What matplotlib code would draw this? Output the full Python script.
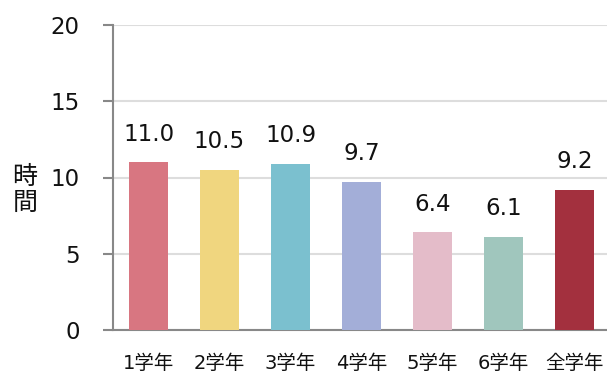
import matplotlib.pyplot as plt

plt.rcParams['font.family'] = ['DejaVu Sans', 'Noto Sans CJK JP']

grades = ["1学年", "2学年", "3学年", "4学年", "5学年", "6学年", "全学年"]
hours = [11.0, 10.5, 10.9, 9.7, 6.4, 6.1, 9.2]
colors = ["#D87681", "#F0D67F", "#7BC0CF", "#A3AED8", "#E4BCC9", "#A0C6BD", "#A3303E"]

fig = plt.figure(figsize=(6.07, 3.74), dpi=100)
ax = fig.add_axes([113 / 607, 44 / 374, 497 / 607, 305 / 374])

x = range(len(grades))
bars = ax.bar(x, hours, width=0.56, color=colors, zorder=3)
for b, v in zip(bars, hours):
    ax.annotate(f"{v:.1f}", (b.get_x() + b.get_width() / 2, v),
                xytext=(0, 12), textcoords="offset points",
                ha="center", va="bottom", fontsize=16.5, color="#111111")

ax.set_xlim(-0.5, 6.5)
ax.set_ylim(0, 20)
ax.set_yticks([0, 5, 10, 15, 20])
ax.set_xticks(list(x))
ax.set_xticklabels(grades, fontsize=14)
ax.grid(axis="y", color="#DDDDDD", linewidth=1.5, zorder=0)

for side in ["top", "right"]:
    ax.spines[side].set_visible(False)
for side in ["left", "bottom"]:
    ax.spines[side].set_color("#888888")
    ax.spines[side].set_linewidth(1.5)

ax.tick_params(axis="y", length=7, width=1.5, color="#888888", labelsize=16.5, pad=17,
               labelcolor="#111111")
ax.tick_params(axis="x", length=0, pad=17, labelcolor="#111111")

fig.text(25 / 607, 184 / 374, "時\n間", fontsize=18, ha="center", va="center",
         linespacing=1.0, family=['Noto Sans CJK JP'], color="#111111")

fig.savefig("out.png", dpi=100)
